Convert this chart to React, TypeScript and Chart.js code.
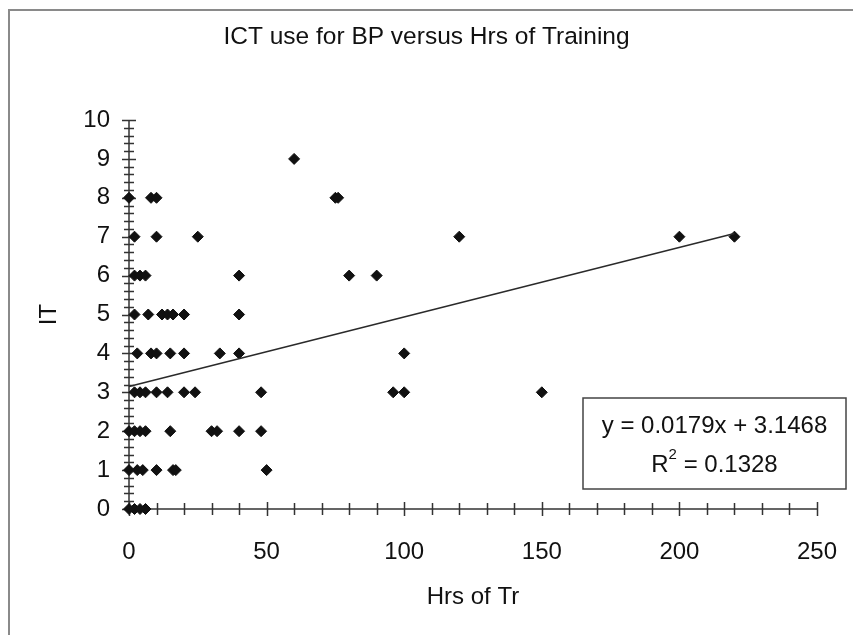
import React, { useEffect, useRef } from "react";
import { Chart, registerables } from "chart.js";

Chart.register(...registerables);

// ---- data ----
const hoursOfTraining = [
  0, 2, 4, 6,
  0, 3, 5, 10, 16, 17, 50,
  0, 2, 4, 6, 15, 30, 32, 40, 48,
  2, 4, 6, 10, 14, 20, 24, 48, 96, 100, 150,
  3, 8, 10, 15, 20, 33, 40, 100,
  2, 7, 12, 14, 16, 20, 40,
  2, 4, 6, 40, 80, 90,
  2, 10, 25, 120, 200, 220,
  0, 8, 10, 75, 76,
  60,
];
const itScores = [
  0, 0, 0, 0,
  1, 1, 1, 1, 1, 1, 1,
  2, 2, 2, 2, 2, 2, 2, 2, 2,
  3, 3, 3, 3, 3, 3, 3, 3, 3, 3, 3,
  4, 4, 4, 4, 4, 4, 4, 4,
  5, 5, 5, 5, 5, 5, 5,
  6, 6, 6, 6, 6, 6,
  7, 7, 7, 7, 7, 7,
  8, 8, 8, 8, 8,
  9,
];
const trendX = [0, 220];
const trendY = [3.1468, 7.0848];
const equationLines = ["y = 0.0179x + 3.1468", "R", "2", " = 0.1328"];
const xTickValues = [0, 50, 100, 150, 200, 250];
const yTickValues = [0, 1, 2, 3, 4, 5, 6, 7, 8, 9, 10];

const TITLE = "ICT use for BP versus Hrs of Training";
const X_TITLE = "Hrs of Tr";
const Y_TITLE = "IT";

const FONT = "'Liberation Sans', Arial, Helvetica, sans-serif";
const TEXT = "#111";
const AXIS = "#333";

const frame = {
  id: "frame",
  beforeDraw(chart: any) {
    const { ctx } = chart;
    ctx.save();
    ctx.fillStyle = "#fff";
    ctx.fillRect(0, 0, chart.width, chart.height);
    ctx.strokeStyle = "#8a8a8a";
    ctx.lineWidth = 2;
    ctx.strokeRect(9, 10, chart.width + 20, chart.height + 20);
    ctx.restore();
  },
};

const excelAxes = {
  id: "excelAxes",
  beforeDatasetsDraw(chart: any) {
    const { ctx } = chart;
    const x = chart.scales.x;
    const y = chart.scales.y;
    const x0 = x.getPixelForValue(x.min);
    const x1 = x.getPixelForValue(x.max);
    const y0 = y.getPixelForValue(y.min);
    const y1 = y.getPixelForValue(y.max);
    ctx.save();
    ctx.strokeStyle = AXIS;
    ctx.lineWidth = 1.5;
    ctx.beginPath();
    ctx.moveTo(x0, y0);
    ctx.lineTo(x1, y0);
    ctx.moveTo(x0, y1);
    ctx.lineTo(x0, y0);
    // x ticks: major 50, minor 10
    for (let v = x.min; v <= x.max + 1e-6; v += 10) {
      const px = Math.round(x.getPixelForValue(v)) + 0.5;
      const len = v % 50 === 0 ? 7 : 6;
      ctx.moveTo(px, y0 - len);
      ctx.lineTo(px, y0 + len);
    }
    // y ticks: major 1, minor 0.2
    for (let i = 0; i <= (y.max - y.min) * 5; i++) {
      const v = y.min + i * 0.2;
      const py = Math.round(y.getPixelForValue(v)) + 0.5;
      const len = i % 5 === 0 ? 7 : 5;
      ctx.moveTo(x0 - len, py);
      ctx.lineTo(x0 + len, py);
    }
    ctx.stroke();
    ctx.restore();
  },
};

const equationBox = {
  id: "equationBox",
  afterDatasetsDraw(chart: any) {
    const { ctx } = chart;
    const left = 583, top = 398, w = 263, h = 91;
    ctx.save();
    ctx.fillStyle = "#fff";
    ctx.fillRect(left, top, w, h);
    ctx.strokeStyle = "#444";
    ctx.lineWidth = 1.5;
    ctx.strokeRect(left, top, w, h);
    ctx.fillStyle = TEXT;
    ctx.textBaseline = "middle";
    ctx.font = `24px ${FONT}`;
    ctx.textAlign = "center";
    const cx = left + w / 2;
    ctx.fillText(equationLines[0], cx, top + 28);
    ctx.textAlign = "left";
    ctx.font = `24px ${FONT}`;
    const wR = ctx.measureText(equationLines[1]).width;
    const wRest = ctx.measureText(equationLines[3]).width;
    ctx.font = `15px ${FONT}`;
    const wSup = ctx.measureText(equationLines[2]).width;
    const total = wR + wSup + wRest;
    let sx = cx - total / 2;
    const ly = top + 67;
    ctx.font = `24px ${FONT}`;
    ctx.fillText(equationLines[1], sx, ly);
    sx += wR;
    ctx.font = `15px ${FONT}`;
    ctx.fillText(equationLines[2], sx, ly - 10);
    sx += wSup;
    ctx.font = `24px ${FONT}`;
    ctx.fillText(equationLines[3], sx, ly);
    ctx.restore();
  },
};

export default function App() {
  const ref = useRef<HTMLCanvasElement | null>(null);
  useEffect(() => {
    if (!ref.current) return;
    const points = hoursOfTraining.map((h, i) => ({ x: h, y: itScores[i] }));
    const trend = trendX.map((v, i) => ({ x: v, y: trendY[i] }));
    const chart = new Chart(ref.current, {
      type: "scatter",
      data: {
        datasets: [
          {
            label: "trend",
            data: trend,
            showLine: true,
            borderColor: "#2a2a2a",
            borderWidth: 1.5,
            pointRadius: 0,
            clip: false,
          } as any,
          {
            label: "IT",
            data: points,
            pointStyle: "rectRot",
            pointRadius: 5.5,
            pointBackgroundColor: "#111",
            pointBorderColor: "#111",
            pointBorderWidth: 1,
            clip: false,
          } as any,
        ],
      },
      options: {
        animation: false,
        responsive: false,
        devicePixelRatio: 1,
        layout: { padding: { left: 0, right: 0, top: 0, bottom: 0 } },
        plugins: {
          legend: { display: false },
          tooltip: { enabled: false },
          title: {
            display: true,
            text: TITLE,
            color: TEXT,
            font: { family: FONT, size: 24.5, weight: "normal", lineHeight: 1.2 },
            padding: { top: 22.3, bottom: 68.3 },
          },
        },
        scales: {
          x: {
            type: "linear",
            min: 0,
            max: 250,
            grid: { display: false, drawTicks: false },
            border: { display: false },
            afterBuildTicks: (s: any) => {
              s.ticks = xTickValues.map((v) => ({ value: v }));
            },
            afterFit: (s: any) => {
              s.height = 126;
              s.paddingRight = 36;
            },
            ticks: {
              color: TEXT,
              font: { family: FONT, size: 24, lineHeight: 1.2 },
              padding: 28.6,
              maxRotation: 0,
            },
            title: {
              display: true,
              text: X_TITLE,
              color: TEXT,
              font: { family: FONT, size: 24, lineHeight: 1.2 },
              padding: { top: 0, bottom: 23.6 },
            },
          },
          y: {
            type: "linear",
            min: 0,
            max: 10,
            grid: { display: false, drawTicks: false },
            border: { display: false },
            afterBuildTicks: (s: any) => {
              s.ticks = yTickValues.map((v) => ({ value: v }));
            },
            afterFit: (s: any) => {
              s.width = 129;
            },
            ticks: {
              color: TEXT,
              font: { family: FONT, size: 24, lineHeight: 1.2 },
              padding: 19,
            },
            title: {
              display: true,
              text: Y_TITLE,
              color: TEXT,
              font: { family: FONT, size: 24, lineHeight: 1.2 },
              padding: { top: 34.6, bottom: 0 },
            },
          },
        },
      },
      plugins: [frame, excelAxes, equationBox],
    });
    return () => chart.destroy();
  }, []);
  return (
    <div style={{ position: "fixed", left: 0, top: 0, width: 853, height: 635, background: "#fff" }}>
      <canvas ref={ref} width={853} height={635} style={{ width: 853, height: 635, display: "block" }} />
    </div>
  );
}
